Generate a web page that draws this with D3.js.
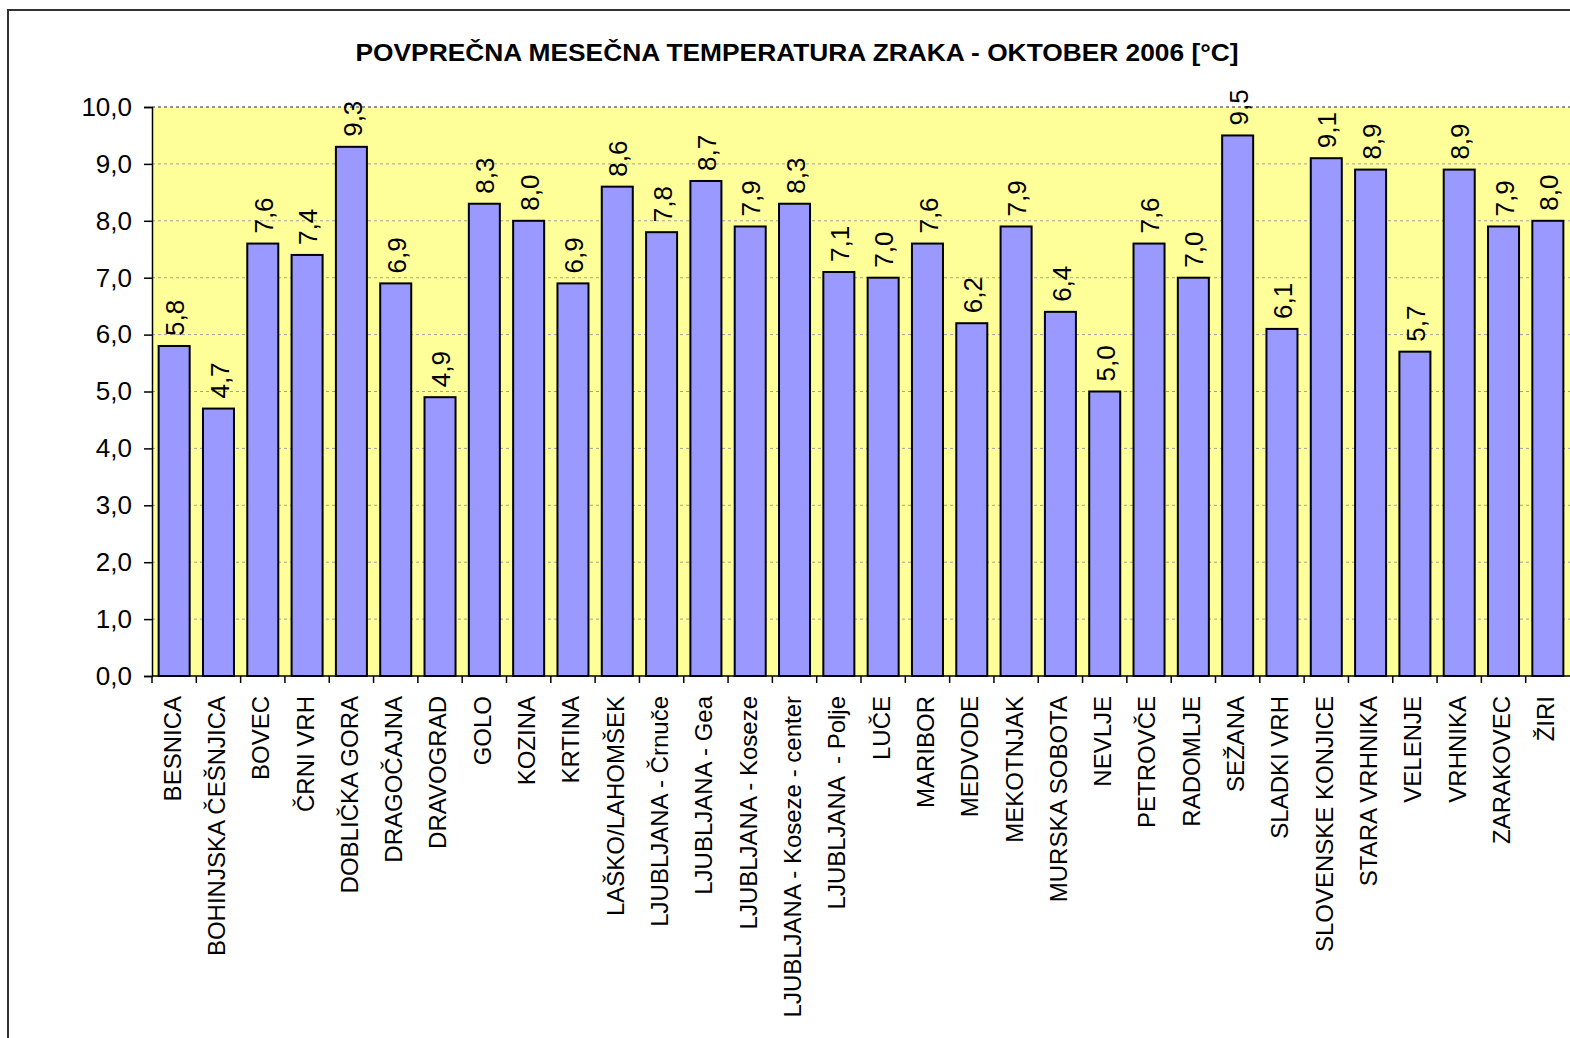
<!DOCTYPE html>
<html>
<head>
<meta charset="utf-8">
<script src="https://cdn.jsdelivr.net/npm/d3@7"></script>
<style>
  body { margin: 0; background: #fff; }
  text { font-family: "Liberation Sans", Arial, sans-serif; }
</style>
</head>
<body>
<script>
const title = "POVPREČNA MESEČNA TEMPERATURA ZRAKA - OKTOBER 2006 [°C]";
const stations = ["BESNICA", "BOHINJSKA ČEŠNJICA", "BOVEC", "ČRNI VRH", "DOBLIČKA GORA", "DRAGOČAJNA",
  "DRAVOGRAD", "GOLO", "KOZINA", "KRTINA", "LAŠKO/LAHOMŠEK", "LJUBLJANA - Črnuče", "LJUBLJANA - Gea",
  "LJUBLJANA - Koseze", "LJUBLJANA - Koseze - center", "LJUBLJANA  - Polje", "LUČE", "MARIBOR", "MEDVODE",
  "MEKOTNJAK", "MURSKA SOBOTA", "NEVLJE", "PETROVČE", "RADOMLJE", "SEŽANA", "SLADKI VRH",
  "SLOVENSKE KONJICE", "STARA VRHNIKA", "VELENJE", "VRHNIKA", "ZARAKOVEC", "ŽIRI"];
const temps = [5.8, 4.7, 7.6, 7.4, 9.3, 6.9, 4.9, 8.3, 8.0, 6.9, 8.6, 7.8, 8.7, 7.9, 8.3, 7.1, 7.0, 7.6, 6.2,
  7.9, 6.4, 5.0, 7.6, 7.0, 9.5, 6.1, 9.1, 8.9, 5.7, 8.9, 7.9, 8.0];
const yTicks = [0, 1, 2, 3, 4, 5, 6, 7, 8, 9, 10];

const W = 1570, H = 1038;
const pLeft = 152, pRight = 1570, pTop = 107, pBottom = 676;
const fmt = v => v.toFixed(1).replace(".", ",");

const svg = d3.select("body").append("svg").attr("width", W).attr("height", H);

// outer frame (cut at right/bottom)
svg.append("rect").attr("x", 8).attr("y", 10).attr("width", W).attr("height", H)
  .attr("fill", "none").attr("stroke", "#333").attr("stroke-width", 2);

svg.append("text").attr("x", 797).attr("y", 61).attr("text-anchor", "middle")
  .attr("font-size", 23).attr("font-weight", "bold")
  .attr("textLength", 883).attr("lengthAdjust", "spacingAndGlyphs")
  .text(title);

const x = d3.scaleBand().domain(stations).range([pLeft, pRight]).paddingInner(0.3).paddingOuter(0.15);
const xb = d3.scaleBand().domain(stations).range([pLeft, pRight]);
const y = d3.scaleLinear().domain([0, 10]).range([pBottom, pTop]);

// plot area
svg.append("rect").attr("x", pLeft).attr("y", pTop).attr("width", pRight - pLeft).attr("height", pBottom - pTop)
  .attr("fill", "#FFFF99");

// gridlines
svg.append("g").selectAll("line").data(yTicks.filter(d => d > 0)).enter().append("line")
  .attr("x1", pLeft).attr("x2", pRight).attr("y1", d => y(d)).attr("y2", d => y(d))
  .attr("stroke", d => d === 10 ? "#707070" : "#a0a0a0").attr("stroke-width", d => d === 10 ? 1.5 : 1)
  .attr("stroke-dasharray", "3,3");

// bars
svg.append("g").selectAll("rect").data(temps).enter().append("rect")
  .attr("x", (d, i) => x(stations[i])).attr("width", x.bandwidth())
  .attr("y", d => y(d)).attr("height", d => y(0) - y(d))
  .attr("fill", "#9999FF").attr("stroke", "#000").attr("stroke-width", 2);

// value labels
svg.append("g").selectAll("text").data(temps).enter().append("text")
  .attr("transform", (d, i) => `translate(${x(stations[i]) + x.bandwidth() / 2 + 1},${y(d) - 10}) rotate(-90)`)
  .attr("dy", "0.35em").attr("font-size", 26).attr("fill", "#000")
  .text(d => fmt(d));

// y axis
const yAxis = d3.axisLeft(y).tickValues(yTicks).tickFormat(fmt).tickSize(8).tickPadding(12);
const gy = svg.append("g").attr("transform", `translate(${pLeft},0)`).call(yAxis);
gy.select(".domain").attr("stroke", "#000").attr("stroke-width", 1.5);
gy.selectAll(".tick line").attr("stroke", "#000").attr("stroke-width", 1.5);
gy.selectAll(".tick text").attr("font-size", 26).attr("font-family", "Liberation Sans, Arial, sans-serif").attr("fill", "#000");

// x axis line and tick marks at category boundaries
svg.append("line").attr("x1", pLeft).attr("x2", pRight).attr("y1", pBottom).attr("y2", pBottom)
  .attr("stroke", "#000").attr("stroke-width", 1.5);
svg.append("g").selectAll("line").data(stations).enter().append("line")
  .attr("x1", d => xb(d)).attr("x2", d => xb(d)).attr("y1", pBottom).attr("y2", pBottom + 7)
  .attr("stroke", "#000").attr("stroke-width", 1.5);

// category labels
svg.append("g").selectAll("text").data(stations).enter().append("text")
  .attr("transform", d => `translate(${xb(d) + xb.bandwidth() / 2 - 2},${pBottom + 20}) rotate(-90)`)
  .attr("text-anchor", "end").attr("dy", "0.35em").attr("font-size", 24).attr("fill", "#000")
  .style("white-space", "pre")
  .text(d => d);
</script>
</body>
</html>
